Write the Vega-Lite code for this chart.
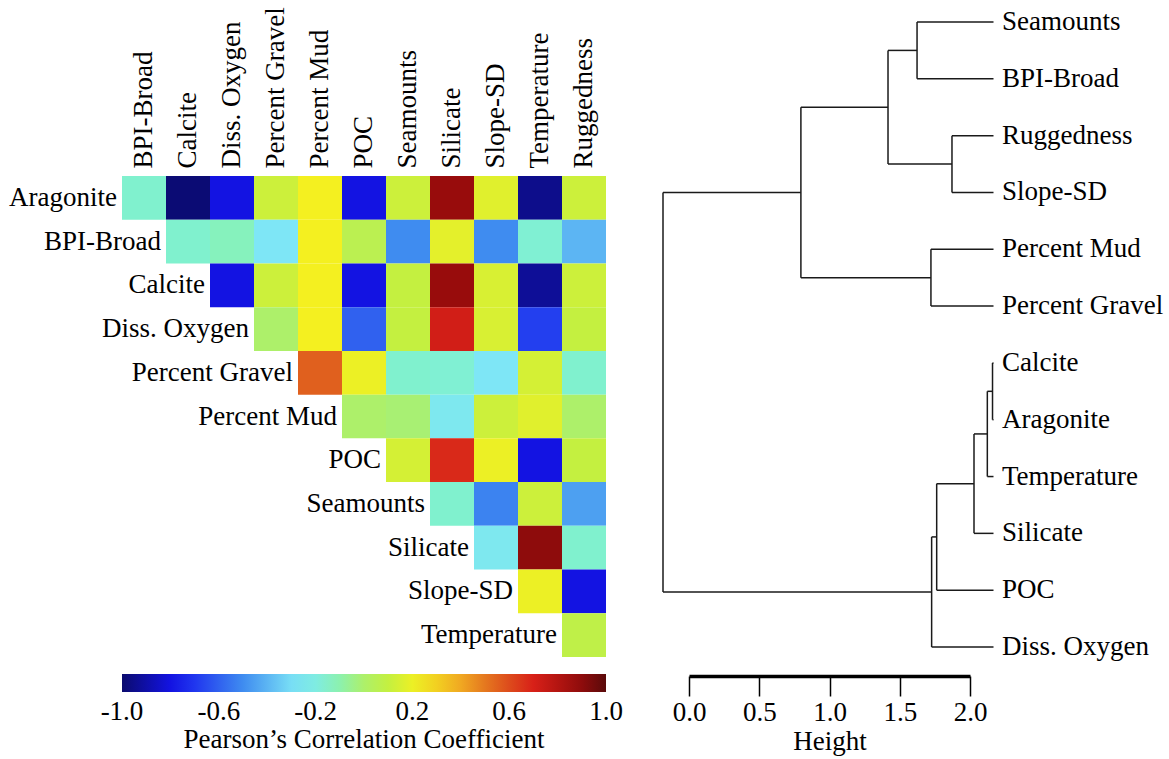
{
  "$schema": "https://vega.github.io/schema/vega-lite/v6.json",
  "width": 1169,
  "height": 759,
  "autosize": {"type": "none"},
  "padding": 0,
  "background": "white",
  "config": {
    "font": "Liberation Serif",
    "view": {"stroke": null},
    "axis": {"labelFont": "Liberation Serif", "titleFont": "Liberation Serif"},
    "legend": {"labelFont": "Liberation Serif", "titleFont": "Liberation Serif"},
    "text": {"font": "Liberation Serif"}
  },
  "datasets": {
    "cells": [
      {"r": "Aragonite", "c": "BPI-Broad", "v": -0.12},
      {"r": "Aragonite", "c": "Calcite", "v": -0.99},
      {"r": "Aragonite", "c": "Diss. Oxygen", "v": -0.8},
      {"r": "Aragonite", "c": "Percent Gravel", "v": 0.12},
      {"r": "Aragonite", "c": "Percent Mud", "v": 0.22},
      {"r": "Aragonite", "c": "POC", "v": -0.8},
      {"r": "Aragonite", "c": "Seamounts", "v": 0.12},
      {"r": "Aragonite", "c": "Silicate", "v": 0.88},
      {"r": "Aragonite", "c": "Slope-SD", "v": 0.17},
      {"r": "Aragonite", "c": "Temperature", "v": -0.95},
      {"r": "Aragonite", "c": "Ruggedness", "v": 0.12},
      {"r": "BPI-Broad", "c": "Calcite", "v": -0.12},
      {"r": "BPI-Broad", "c": "Diss. Oxygen", "v": -0.105},
      {"r": "BPI-Broad", "c": "Percent Gravel", "v": -0.28},
      {"r": "BPI-Broad", "c": "Percent Mud", "v": 0.22},
      {"r": "BPI-Broad", "c": "POC", "v": 0.06},
      {"r": "BPI-Broad", "c": "Seamounts", "v": -0.5},
      {"r": "BPI-Broad", "c": "Silicate", "v": 0.18},
      {"r": "BPI-Broad", "c": "Slope-SD", "v": -0.5},
      {"r": "BPI-Broad", "c": "Temperature", "v": -0.14},
      {"r": "BPI-Broad", "c": "Ruggedness", "v": -0.4},
      {"r": "Calcite", "c": "Diss. Oxygen", "v": -0.8},
      {"r": "Calcite", "c": "Percent Gravel", "v": 0.12},
      {"r": "Calcite", "c": "Percent Mud", "v": 0.22},
      {"r": "Calcite", "c": "POC", "v": -0.8},
      {"r": "Calcite", "c": "Seamounts", "v": 0.1},
      {"r": "Calcite", "c": "Silicate", "v": 0.88},
      {"r": "Calcite", "c": "Slope-SD", "v": 0.15},
      {"r": "Calcite", "c": "Temperature", "v": -0.93},
      {"r": "Calcite", "c": "Ruggedness", "v": 0.12},
      {"r": "Diss. Oxygen", "c": "Percent Gravel", "v": 0.0},
      {"r": "Diss. Oxygen", "c": "Percent Mud", "v": 0.22},
      {"r": "Diss. Oxygen", "c": "POC", "v": -0.6},
      {"r": "Diss. Oxygen", "c": "Seamounts", "v": 0.1},
      {"r": "Diss. Oxygen", "c": "Silicate", "v": 0.72},
      {"r": "Diss. Oxygen", "c": "Slope-SD", "v": 0.15},
      {"r": "Diss. Oxygen", "c": "Temperature", "v": -0.68},
      {"r": "Diss. Oxygen", "c": "Ruggedness", "v": 0.1},
      {"r": "Percent Gravel", "c": "Percent Mud", "v": 0.55},
      {"r": "Percent Gravel", "c": "POC", "v": 0.2},
      {"r": "Percent Gravel", "c": "Seamounts", "v": -0.12},
      {"r": "Percent Gravel", "c": "Silicate", "v": -0.14},
      {"r": "Percent Gravel", "c": "Slope-SD", "v": -0.28},
      {"r": "Percent Gravel", "c": "Temperature", "v": 0.14},
      {"r": "Percent Gravel", "c": "Ruggedness", "v": -0.12},
      {"r": "Percent Mud", "c": "POC", "v": 0.0},
      {"r": "Percent Mud", "c": "Seamounts", "v": -0.02},
      {"r": "Percent Mud", "c": "Silicate", "v": -0.25},
      {"r": "Percent Mud", "c": "Slope-SD", "v": 0.12},
      {"r": "Percent Mud", "c": "Temperature", "v": 0.17},
      {"r": "Percent Mud", "c": "Ruggedness", "v": 0.0},
      {"r": "POC", "c": "Seamounts", "v": 0.14},
      {"r": "POC", "c": "Silicate", "v": 0.68},
      {"r": "POC", "c": "Slope-SD", "v": 0.2},
      {"r": "POC", "c": "Temperature", "v": -0.8},
      {"r": "POC", "c": "Ruggedness", "v": 0.1},
      {"r": "Seamounts", "c": "Silicate", "v": -0.12},
      {"r": "Seamounts", "c": "Slope-SD", "v": -0.52},
      {"r": "Seamounts", "c": "Temperature", "v": 0.12},
      {"r": "Seamounts", "c": "Ruggedness", "v": -0.45},
      {"r": "Silicate", "c": "Slope-SD", "v": -0.25},
      {"r": "Silicate", "c": "Temperature", "v": 0.9},
      {"r": "Silicate", "c": "Ruggedness", "v": -0.12},
      {"r": "Slope-SD", "c": "Temperature", "v": 0.2},
      {"r": "Slope-SD", "c": "Ruggedness", "v": -0.8},
      {"r": "Temperature", "c": "Ruggedness", "v": 0.08}
    ],
    "rowlabels": [
      {"r": "Aragonite", "first": "BPI-Broad"},
      {"r": "BPI-Broad", "first": "Calcite"},
      {"r": "Calcite", "first": "Diss. Oxygen"},
      {"r": "Diss. Oxygen", "first": "Percent Gravel"},
      {"r": "Percent Gravel", "first": "Percent Mud"},
      {"r": "Percent Mud", "first": "POC"},
      {"r": "POC", "first": "Seamounts"},
      {"r": "Seamounts", "first": "Silicate"},
      {"r": "Silicate", "first": "Slope-SD"},
      {"r": "Slope-SD", "first": "Temperature"},
      {"r": "Temperature", "first": "Ruggedness"}
    ],
    "segments": [
      {"h1": 0, "h2": 0.545, "o1": 0, "o2": 0},
      {"h1": 0, "h2": 0.545, "o1": 1, "o2": 1},
      {"h1": 0.545, "h2": 0.545, "o1": 0, "o2": 1},
      {"h1": 0, "h2": 0.296, "o1": 2, "o2": 2},
      {"h1": 0, "h2": 0.296, "o1": 3, "o2": 3},
      {"h1": 0.296, "h2": 0.296, "o1": 2, "o2": 3},
      {"h1": 0.545, "h2": 0.752, "o1": 0.5, "o2": 0.5},
      {"h1": 0.296, "h2": 0.752, "o1": 2.5, "o2": 2.5},
      {"h1": 0.752, "h2": 0.752, "o1": 0.5, "o2": 2.5},
      {"h1": 0, "h2": 0.446, "o1": 4, "o2": 4},
      {"h1": 0, "h2": 0.446, "o1": 5, "o2": 5},
      {"h1": 0.446, "h2": 0.446, "o1": 4, "o2": 5},
      {"h1": 0.752, "h2": 1.373, "o1": 1.5, "o2": 1.5},
      {"h1": 0.446, "h2": 1.373, "o1": 4.5, "o2": 4.5},
      {"h1": 1.373, "h2": 1.373, "o1": 1.5, "o2": 4.5},
      {"h1": 1.373, "h2": 2.356, "o1": 3, "o2": 3},
      {"h1": 0, "h2": 0.007, "o1": 6, "o2": 6},
      {"h1": 0, "h2": 0.007, "o1": 7, "o2": 7},
      {"h1": 0.007, "h2": 0.007, "o1": 6, "o2": 7},
      {"h1": 0.007, "h2": 0.044, "o1": 6.5, "o2": 6.5},
      {"h1": 0, "h2": 0.044, "o1": 8, "o2": 8},
      {"h1": 0.044, "h2": 0.044, "o1": 6.5, "o2": 8},
      {"h1": 0.044, "h2": 0.139, "o1": 7.25, "o2": 7.25},
      {"h1": 0, "h2": 0.139, "o1": 9, "o2": 9},
      {"h1": 0.139, "h2": 0.139, "o1": 7.25, "o2": 9},
      {"h1": 0.139, "h2": 0.405, "o1": 8.125, "o2": 8.125},
      {"h1": 0, "h2": 0.405, "o1": 10, "o2": 10},
      {"h1": 0.405, "h2": 0.405, "o1": 8.125, "o2": 10},
      {"h1": 0.405, "h2": 0.441, "o1": 9.0625, "o2": 9.0625},
      {"h1": 0, "h2": 0.441, "o1": 11, "o2": 11},
      {"h1": 0.441, "h2": 0.441, "o1": 9.0625, "o2": 11},
      {"h1": 0.441, "h2": 2.356, "o1": 10.03, "o2": 10.03},
      {"h1": 2.356, "h2": 2.356, "o1": 3, "o2": 10.03}
    ],
    "leaves": [
      {"name": "Seamounts", "o": 0, "h": 0},
      {"name": "BPI-Broad", "o": 1, "h": 0},
      {"name": "Ruggedness", "o": 2, "h": 0},
      {"name": "Slope-SD", "o": 3, "h": 0},
      {"name": "Percent Mud", "o": 4, "h": 0},
      {"name": "Percent Gravel", "o": 5, "h": 0},
      {"name": "Calcite", "o": 6, "h": 0},
      {"name": "Aragonite", "o": 7, "h": 0},
      {"name": "Temperature", "o": 8, "h": 0},
      {"name": "Silicate", "o": 9, "h": 0},
      {"name": "POC", "o": 10, "h": 0},
      {"name": "Diss. Oxygen", "o": 11, "h": 0}
    ],
    "scalebar": [{"height": 0}, {"height": 2}]
  },
  "resolve": {
    "scale": {"x": "independent", "y": "independent"},
    "axis": {"x": "independent", "y": "independent"}
  },
  "layer": [
    {
      "layer": [
        {
          "data": {"name": "cells"},
          "mark": {"type": "rect"},
          "encoding": {
            "x": {
              "field": "c", "type": "nominal",
              "scale": {
                "domain": ["BPI-Broad", "Calcite", "Diss. Oxygen", "Percent Gravel", "Percent Mud", "POC", "Seamounts", "Silicate", "Slope-SD", "Temperature", "Ruggedness"],
                "range": [122, 606], "paddingInner": 0, "paddingOuter": 0
              },
              "axis": {
                "orient": "top", "offset": -175, "title": null,
                "labelAngle": -90, "labelAlign": "left", "labelBaseline": "middle",
                "labelPadding": 7, "ticks": false, "domain": false,
                "labelFontSize": 27, "labelColor": "black", "labelOverlap": false, "labelLimit": 300
              }
            },
            "y": {
              "field": "r", "type": "nominal",
              "scale": {
                "domain": ["Aragonite", "BPI-Broad", "Calcite", "Diss. Oxygen", "Percent Gravel", "Percent Mud", "POC", "Seamounts", "Silicate", "Slope-SD", "Temperature"],
                "range": [176, 657], "paddingInner": 0, "paddingOuter": 0
              },
              "axis": null
            },
            "color": {
              "field": "v", "type": "quantitative",
              "scale": {
                "domain": [-1, -0.78, -0.5, -0.28, -0.11, -0.09, 0.1, 0.22, 0.4, 0.55, 0.7, 0.88, 1],
                "range": ["#0b0b6e", "#1414ee", "#3f8cf0", "#7ee6f6", "#80f2cc", "#98f090", "#c4f040", "#f4f020", "#f0a822", "#e0601e", "#d82018", "#980c0c", "#5a0a0a"],
                "interpolate": "rgb"
              },
              "legend": {
                "orient": "none", "legendX": 122, "legendY": 674,
                "direction": "horizontal", "gradientLength": 484, "gradientThickness": 18,
                "gradientStrokeWidth": 0,
                "title": "Pearson’s Correlation Coefficient", "titleOrient": "bottom", "titleAnchor": "middle",
                "titleFontSize": 27, "titleFontWeight": "normal", "titleColor": "black", "titlePadding": 2, "titleLimit": 700,
                "labelFontSize": 27, "labelColor": "black", "labelOffset": 7, "labelOverlap": false, "labelAlign": "center",
                "values": [-1, -0.6, -0.2, 0.2, 0.6, 1],
                "labelExpr": "datum.value < 0 ? '-' + format(-datum.value, '.1f') : format(datum.value, '.1f')",
                "padding": 0,
                "encode": {"labels": {"update": {"align": {"value": "center"}}}}
              }
            }
          }
        },
        {
          "data": {"name": "rowlabels"},
          "mark": {"type": "text", "align": "right", "baseline": "middle", "dx": -5, "fontSize": 27, "color": "black"},
          "encoding": {
            "x": {"field": "first", "type": "nominal", "bandPosition": 0},
            "y": {"field": "r", "type": "nominal", "axis": null},
            "text": {"field": "r"}
          }
        }
      ]
    },
    {
      "layer": [
        {
          "data": {"name": "segments"},
          "mark": {"type": "rule", "color": "#1a1a1a", "strokeWidth": 1.5},
          "encoding": {
            "x": {"field": "h1", "type": "quantitative", "scale": {"domain": [0, 2.356], "range": [993.5, 663], "zero": false, "nice": false}, "axis": null},
            "x2": {"field": "h2"},
            "y": {"field": "o1", "type": "quantitative", "scale": {"domain": [0, 11], "range": [22, 647], "zero": false, "nice": false}, "axis": null},
            "y2": {"field": "o2"}
          }
        },
        {
          "data": {"name": "leaves"},
          "mark": {"type": "text", "align": "left", "baseline": "middle", "dx": 8.5, "fontSize": 27, "color": "black"},
          "encoding": {
            "x": {"field": "h", "type": "quantitative"},
            "y": {"field": "o", "type": "quantitative"},
            "text": {"field": "name"}
          }
        }
      ]
    },
    {
      "data": {"name": "scalebar"},
      "mark": {"type": "point", "opacity": 0},
      "encoding": {
        "x": {
          "field": "height", "type": "quantitative",
          "scale": {"domain": [0, 2], "range": [689, 970], "zero": false, "nice": false},
          "axis": {
            "orient": "bottom", "offset": -83, "title": "Height",
            "values": [0, 0.5, 1, 1.5, 2], "format": ".1f",
            "domainWidth": 3.5, "domainColor": "black", "tickColor": "black", "tickWidth": 1.5, "tickSize": 20,
            "labelPadding": 3, "labelFontSize": 27, "labelColor": "black", "labelFlush": false, "labelOverlap": false,
            "titleFontSize": 27, "titleFontWeight": "normal", "titleColor": "black", "titlePadding": 3, "grid": false
          }
        }
      }
    }
  ]
}
